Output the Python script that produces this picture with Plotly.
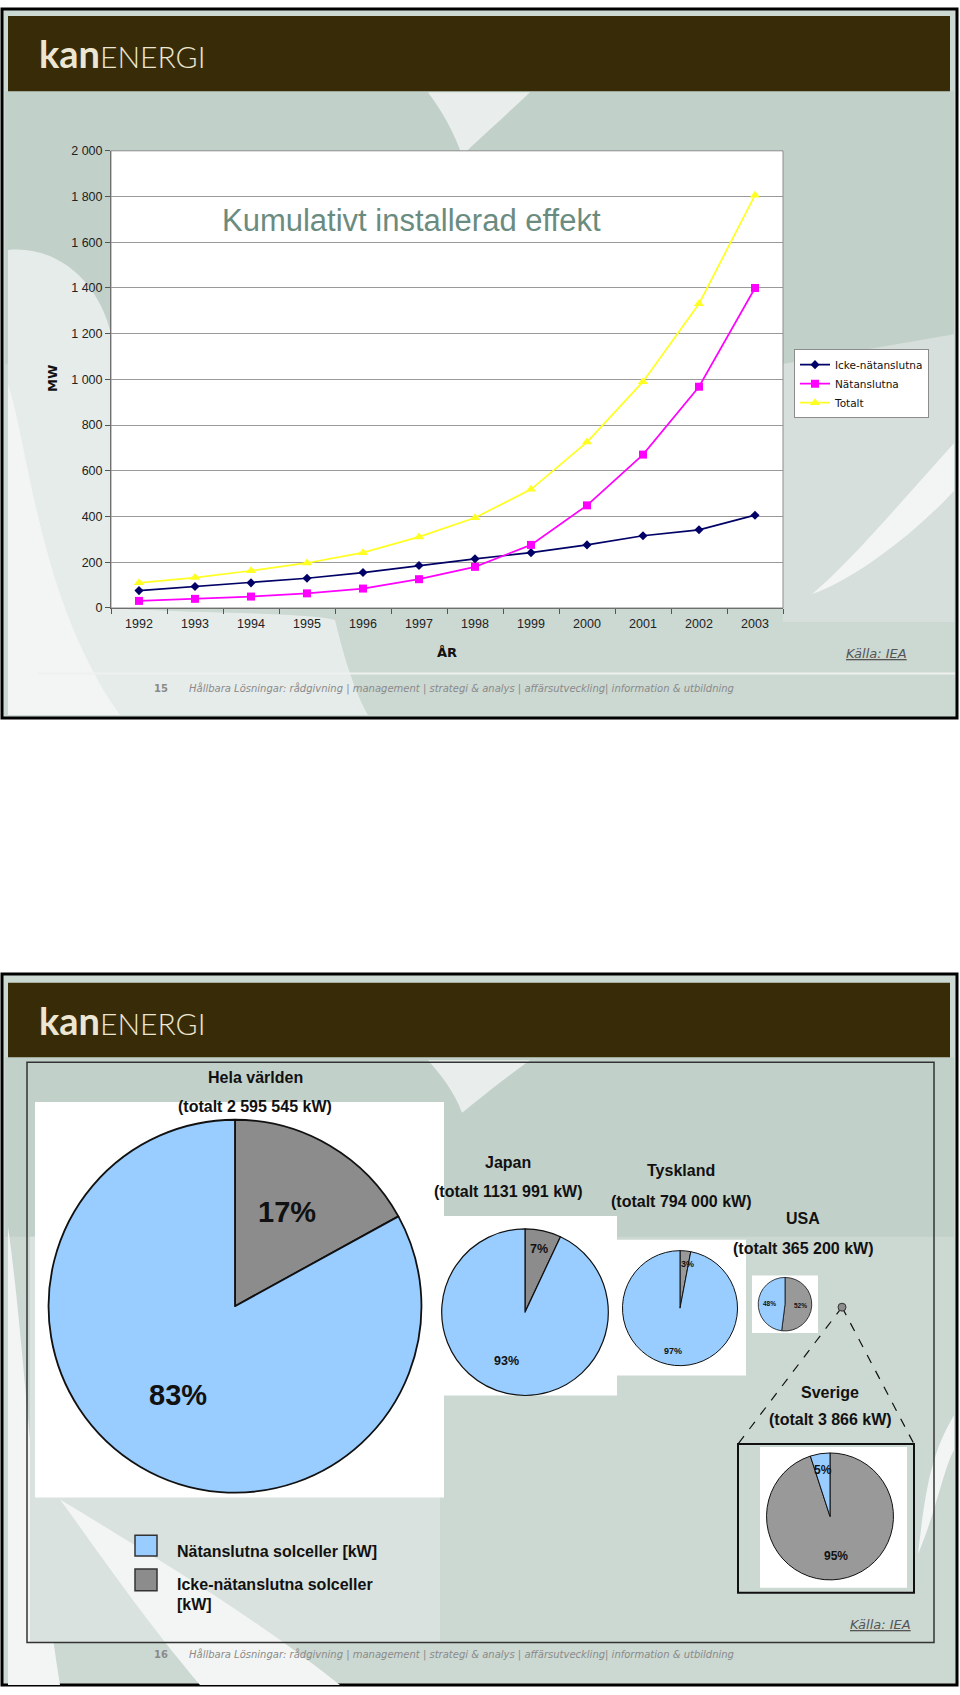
import plotly.graph_objects as go

W, H = 960, 1695

# ---------------- data ----------------
years = ["1992", "1993", "1994", "1995", "1996", "1997",
         "1998", "1999", "2000", "2001", "2002", "2003"]
icke_mw = [76, 94, 110, 130, 155, 186, 215, 242, 276, 316, 342, 406]
nat_mw = [31, 40, 50, 64, 85, 126, 180, 276, 449, 671, 968, 1400]
totalt_mw = [110, 133, 163, 197, 242, 311, 395, 519, 726, 990, 1331, 1806]
series_names = ["Icke-nätanslutna", "Nätanslutna", "Totalt"]
y_ticks = [0, 200, 400, 600, 800, 1000, 1200, 1400, 1600, 1800, 2000]

regions = ["Hela världen", "Japan", "Tyskland", "USA", "Sverige"]
region_totals_kw = ["2 595 545", "1131 991", "794 000", "365 200", "3 866"]
icke_pct = [17, 7, 3, 52, 95]
nat_pct = [83, 93, 97, 48, 5]
pie_labels = ["Icke-nätanslutna solceller [kW]", "Nätanslutna solceller [kW]"]


# ---------------- helpers ----------------
def px(x):
    return x / W


def py(y):
    return 1 - y / H


shapes = []
annotations = []


def rect(x0, y0, x1, y1, fill=None, line=None, width=1, layer="below", dash="solid"):
    shapes.append(dict(type="rect", xref="paper", yref="paper",
                       x0=px(x0), x1=px(x1), y0=py(y1), y1=py(y0),
                       fillcolor=fill if fill else "rgba(0,0,0,0)",
                       line=dict(color=line if line else "rgba(0,0,0,0)", width=width if line else 0, dash=dash),
                       layer=layer))


def seg(x0, y0, x1, y1, color, width=1, dash="solid", layer="above"):
    shapes.append(dict(type="line", xref="paper", yref="paper",
                       x0=px(x0), x1=px(x1), y0=py(y0), y1=py(y1),
                       line=dict(color=color, width=width, dash=dash), layer=layer))


def path(cmds, fill, layer="below"):
    s = ""
    for c, pts in cmds:
        s += c + " "
        conv = []
        for i in range(0, len(pts), 2):
            conv.append(f"{px(pts[i]):.5f},{py(pts[i+1]):.5f}")
        s += " ".join(conv) + " "
    s += "Z"
    shapes.append(dict(type="path", xref="paper", yref="paper", path=s,
                       fillcolor=fill, line=dict(width=0), layer=layer))


def ann(x, y, text, size, color="#000", family="Liberation Sans, Arial", weight="normal",
        style="normal", xanchor="center", angle=0):
    annotations.append(dict(x=px(x), y=py(y), xref="paper", yref="paper", text=text,
                            showarrow=False, xanchor=xanchor, yanchor="middle", textangle=angle,
                            font=dict(size=size, color=color, family=family, weight=weight, style=style)))


BG = "#ccd8d2"
BG_DARK = "#c2d0ca"
BG_LIGHT = "#e6ecea"
WHITEISH = "#f2f5f4"
HEADER = "#372c07"
LOGO = "#ece6d2"
BLUE = "#99ccff"
GRAY = "#8c8c8c"
GRAY2 = "#999999"
FOOT = "Hållbara Lösningar: rådgivning | management | strategi & analys | affärsutveckling| information & utbildning"
LOGO_TXT = ("<span style='font-size:38px;font-weight:bold'>kan</span>"
            "<span style='font-weight:300'>ENERGI</span>")

# ================= SLIDE 1 =================
rect(2, 2, 957, 717, fill=BG, line="#000", width=3)
rect(5, 85, 954, 360, fill=BG_DARK)
path([("M", [8, 245]), ("C", [60, 240, 100, 280, 111, 330]), ("L", [111, 606]),
      ("C", [200, 612, 300, 610, 335, 618]), ("C", [345, 660, 355, 690, 368, 714]),
      ("L", [8, 714])], BG_LIGHT)
path([("M", [8, 380]), ("C", [30, 450, 40, 600, 120, 714]), ("L", [8, 714])], WHITEISH)
path([("M", [783, 360]), ("L", [954, 330]), ("L", [954, 620]), ("L", [783, 620])], "#d6dfdb")
path([("M", [954, 440]), ("C", [900, 500, 850, 560, 812, 592]),
      ("C", [860, 575, 920, 525, 954, 488])], WHITEISH)
path([("M", [428, 86]), ("L", [530, 86]), ("C", [505, 110, 480, 132, 462, 150]),
      ("C", [455, 128, 442, 105, 428, 86])], "#e9eeec")
rect(8, 9, 950, 85, fill=HEADER)
seg(37, 672, 955, 672, "#eef1ef", 2, layer="below")
# white plot area
rect(111, 145, 783, 606, fill="#ffffff")

ann(37, 46, LOGO_TXT, 30, color=LOGO, family="Lato, DejaVu Sans", xanchor="left")

# plot area frame
rect(111, 145, 783, 606, line="#8c8c8c", width=1, layer="above")

line_colors = ["#000066", "#ff00ff", "#ffff22"]
symbols = ["diamond", "square", "triangle-up"]
msizes = [7, 8, 9]
fig = go.Figure()
for name, vals, col, sym, ms in zip(series_names, [icke_mw, nat_mw, totalt_mw], line_colors, symbols, msizes):
    fig.add_trace(go.Scatter(x=years, y=vals, name=name, mode="lines+markers",
                             line=dict(color=col, width=1.7), marker=dict(symbol=sym, size=ms, color=col),
                             xaxis="x", yaxis="y"))

ann(411, 215, "Kumulativt installerad effekt", 31, color="#6a8c80")
ann(53, 375, "MW", 13, color="#111", family="DejaVu Sans", weight="bold", angle=-90)
ann(447, 651, "ÅR", 13, color="#111", family="DejaVu Sans", weight="bold")
ann(876, 652, "<u>Källa: IEA</u>", 13, color="#555", family="DejaVu Sans", style="italic")
ann(152, 687, "15", 10, color="#8a8a8a", family="DejaVu Sans", weight="bold", xanchor="left")
ann(187, 687, FOOT, 10, color="#8a8a8a", family="DejaVu Sans", style="italic", xanchor="left")

# ================= SLIDE 2 =================
rect(2, 975, 957, 1692, fill=BG, line="#000", width=3)
rect(5, 1059, 954, 1240, fill=BG_DARK)
path([("M", [8, 1230]), ("C", [25, 1350, 30, 1500, 60, 1692]), ("L", [8, 1692])], WHITEISH)
path([("M", [30, 1240]), ("L", [440, 1240]), ("L", [440, 1649]), ("L", [30, 1649])], "#d9e2de")
path([("M", [60, 1505]), ("C", [150, 1560, 250, 1620, 340, 1692]), ("L", [200, 1692]),
      ("C", [140, 1620, 100, 1560, 60, 1505])], WHITEISH)
path([("M", [954, 1420]), ("C", [930, 1460, 925, 1500, 918, 1560]),
      ("C", [935, 1520, 945, 1470, 954, 1455])], WHITEISH)
path([("M", [428, 1062]), ("L", [530, 1062]), ("C", [505, 1080, 480, 1100, 462, 1115]),
      ("C", [455, 1095, 442, 1078, 428, 1062])], "#e9eeec")
rect(8, 984, 950, 1059, fill=HEADER)
ann(37, 1021, LOGO_TXT, 30, color=LOGO, family="Lato, DejaVu Sans", xanchor="left")
rect(27, 1064, 934, 1649, line="#333", width=1.5)

# white panels behind pies
rect(35, 1104, 444, 1503, fill="#ffffff")
rect(441, 1219, 617, 1400, fill="#ffffff")
rect(617, 1243, 746, 1380, fill="#ffffff")
rect(752, 1279, 818, 1337, fill="#ffffff")
rect(760, 1452, 907, 1594, fill="#ffffff")
rect(738, 1449, 914, 1599, line="#111", width=2, layer="above")

# zoom lines to Sweden
seg(842, 1311, 738, 1449, "#111", 1.2, dash="dash")
seg(842, 1311, 914, 1449, "#111", 1.2, dash="dash")
shapes.append(dict(type="circle", xref="paper", yref="paper",
                   x0=px(838), x1=px(846), y0=py(1315), y1=py(1307),
                   fillcolor=GRAY, line=dict(color="#333", width=1), layer="above"))

# pie geometry (center x, center y, radius)
pie_geom = [(235, 1310, 188), (525, 1316, 84), (680, 1312, 58), (785, 1308, 27), (830, 1522, 64)]
pie_line = [1.8, 1.2, 1, 0.8, 1]
pie_gray = [GRAY, GRAY, GRAY2, GRAY2, GRAY2]
title_pos = [(255, 1079, 1109), (508, 1165, 1194), (681, 1173, 1204), (803, 1222, 1252), (830, 1397, 1424)]
lab_pos = [((287, 1215), (178, 1400)), ((539, 1252), (507, 1365)), ((687, 1267), (673, 1355)),
           ((800, 1309), (769, 1307)), ((836, 1562), (823, 1475))]
lab_size = [29, 12.5, 9, 6.5, 12]

for i, reg in enumerate(regions):
    cx, cy, r = pie_geom[i]
    fig.add_trace(go.Pie(values=[icke_pct[i], nat_pct[i]], labels=pie_labels,
                         marker=dict(colors=[pie_gray[i], BLUE], line=dict(color="#111", width=pie_line[i])),
                         sort=False, direction="clockwise", rotation=0, textinfo="none",
                         showlegend=False, hoverinfo="label+percent",
                         domain=dict(x=[px(cx - r), px(cx + r)], y=[py(cy + r), py(cy - r)])))
    tx, ty1, ty2 = title_pos[i]
    ann(tx, ty1, reg, 16, color="#111", weight="bold")
    ann(tx, ty2, f"(totalt {region_totals_kw[i]} kW)", 16, color="#111", weight="bold")
    (gx, gy), (bx, by) = lab_pos[i]
    ann(gx, gy, f"{icke_pct[i]}%", lab_size[i], color="#111", weight="bold")
    ann(bx, by, f"{nat_pct[i]}%", lab_size[i], color="#111", weight="bold")

# custom legend for pies
rect(135, 1541, 157, 1562, fill=BLUE, line="#333", width=1.5)
rect(135, 1575, 157, 1597, fill=GRAY, line="#333", width=1.5)
ann(175, 1557, pie_labels[1], 16, color="#111", weight="bold", xanchor="left")
ann(175, 1591, "Icke-nätanslutna solceller", 16, color="#111", weight="bold", xanchor="left")
ann(175, 1611, "[kW]", 16, color="#111", weight="bold", xanchor="left")

ann(880, 1631, "<u>Källa: IEA</u>", 13, color="#555", family="DejaVu Sans", style="italic")
ann(152, 1661, "16", 10, color="#8a8a8a", family="DejaVu Sans", weight="bold", xanchor="left")
ann(187, 1661, FOOT, 10, color="#8a8a8a", family="DejaVu Sans", style="italic", xanchor="left")

fig.update_layout(
    width=W, height=H, autosize=False,
    margin=dict(l=0, r=0, t=0, b=0, pad=0),
    paper_bgcolor="#ffffff", plot_bgcolor="#ffffff",
    separators=", ",
    font=dict(family="Liberation Sans, Arial", color="#222"),
    xaxis=dict(domain=[px(111), px(783)], anchor="y", type="category", range=[-0.5, 11.5],
               tickson="boundaries", ticks="outside", ticklen=5, tickcolor="#555",
               showline=True, linecolor="#555", linewidth=1, showgrid=False,
               tickfont=dict(size=12.5, color="#222"), ticklabelstandoff=4, fixedrange=True),
    yaxis=dict(domain=[py(606), py(145)], anchor="x", range=[0, 2000], tickvals=y_ticks,
               tickformat=",d", ticks="outside", ticklen=5, tickcolor="#555",
               showline=True, linecolor="#555", linewidth=1, showgrid=True,
               gridcolor="#9a9a9a", gridwidth=1, zeroline=False,
               tickfont=dict(size=12.5, color="#222"), fixedrange=True),
    showlegend=True,
    legend=dict(x=px(794), y=py(345), xanchor="left", yanchor="top",
                bgcolor="#ffffff", bordercolor="#8c8c8c", borderwidth=1,
                font=dict(family="DejaVu Sans", size=10.5, color="#111"),
                itemwidth=30, tracegroupgap=0),
    shapes=shapes, annotations=annotations,
)

fig.write_html("out.html")
